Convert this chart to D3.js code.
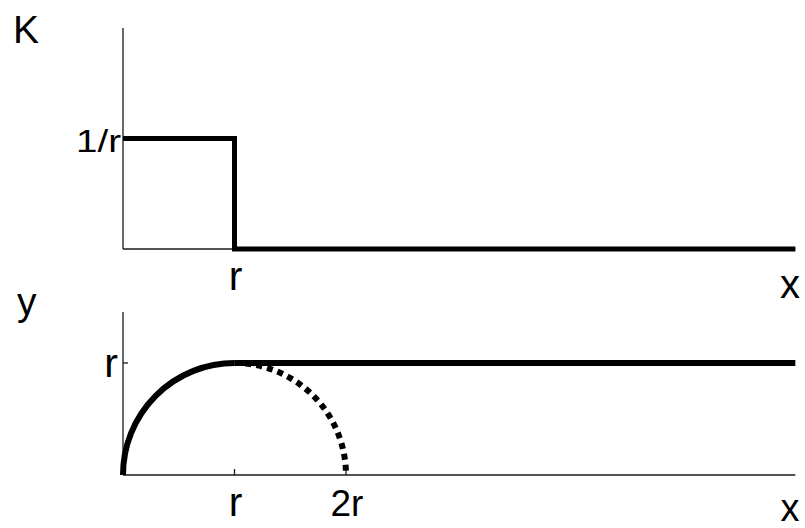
<!DOCTYPE html>
<html>
<head>
<meta charset="utf-8">
<script src="https://cdn.jsdelivr.net/npm/d3@7/dist/d3.min.js"></script>
<style>
html,body{margin:0;padding:0;background:#fff;}
svg{display:block;}
text{font-family:"Liberation Sans",Arial,sans-serif;fill:#000;}
</style>
</head>
<body>
<svg id="chart" width="805" height="528"></svg>
<script>
// ---- data (in units of r) ----
const xMax = 6.03;
const xTickValues = [1, 2];
const xTickLabels = ["r", "2r"];
// top panel: K(x) step function
const kStepX = [0, 1, 1, xMax];
const kStepY = [1, 1, 0, 0];
const kTickValue = 1;
const kTickLabel = "1/r";
// bottom panel: y(x)
const arcCenter = 1;   // circle centred at x = r
const arcRadius = 1;   // radius r
const yFlatX = [1, xMax];
const yFlatY = [1, 1];
const yTickValue = 1;
const yTickLabel = "r";

const svg = d3.select("#chart");

const x = d3.scaleLinear().domain([0, xMax]).range([123, 123 + xMax * 111.5]);
const yTop = d3.scaleLinear().domain([0, 2]).range([249, 28]);
const yBot = d3.scaleLinear().domain([0, 1.455]).range([475, 312]);

function drawAxes(ys, tickXs, tickY) {
  const g = svg.append("g").attr("stroke", "#1a1a1a").attr("stroke-width", 1.3).attr("fill", "none");
  g.append("line").attr("x1", x(0)).attr("x2", x(0)).attr("y1", ys(ys.domain()[1])).attr("y2", ys(0));
  g.append("line").attr("x1", x(0)).attr("x2", x(xMax)).attr("y1", ys(0)).attr("y2", ys(0));
  tickXs.forEach(v => {
    g.append("line").attr("x1", x(v)).attr("x2", x(v)).attr("y1", ys(0)).attr("y2", ys(0) - 6);
  });
  g.append("line").attr("x1", x(0)).attr("x2", x(0) + 5).attr("y1", ys(tickY)).attr("y2", ys(tickY));
}

// ---- top panel ----
drawAxes(yTop, [1], kTickValue);
const kLine = d3.line().x(d => x(d[0])).y(d => yTop(d[1]));
svg.append("path")
  .attr("d", kLine(kStepX.map((v, i) => [v, kStepY[i]])))
  .attr("fill", "none").attr("stroke", "#000").attr("stroke-width", 5)
  .attr("stroke-linejoin", "miter").attr("stroke-linecap", "butt");

svg.append("text").attr("x", 13).attr("y", 43).attr("font-size", 39).text("K");
svg.append("text").attr("x", 121).attr("y", 152).attr("text-anchor", "end")
  .attr("font-size", 31).attr("textLength", 45).attr("lengthAdjust", "spacingAndGlyphs").text(kTickLabel);
svg.append("text").attr("x", x(xTickValues[0]) + 1).attr("y", 290).attr("text-anchor", "middle")
  .attr("font-size", 41).text(xTickLabels[0]);
svg.append("text").attr("x", 790).attr("y", 298).attr("text-anchor", "middle")
  .attr("font-size", 40).text("x");

// ---- bottom panel ----
drawAxes(yBot, xTickValues, yTickValue);
const rx = x(arcCenter + arcRadius) - x(arcCenter);
const ry = yBot(0) - yBot(arcRadius);
const solidArc = d3.path();
solidArc.moveTo(x(arcCenter - arcRadius), yBot(0));
const solidD = solidArc.toString() + ` A${rx},${ry} 0 0 1 ${x(arcCenter)},${yBot(arcRadius)}`;
svg.append("path").attr("d", solidD)
  .attr("fill", "none").attr("stroke", "#000").attr("stroke-width", 6);

const dotD = `M${x(arcCenter)},${yBot(arcRadius)} A${rx},${ry} 0 0 1 ${x(arcCenter + arcRadius)},${yBot(0)}`;
svg.append("path").attr("d", dotD)
  .attr("fill", "none").attr("stroke", "#000").attr("stroke-width", 6)
  .attr("stroke-dasharray", "6,5");

const flatLine = d3.line().x(d => x(d[0])).y(d => yBot(d[1]));
svg.append("path")
  .attr("d", flatLine(yFlatX.map((v, i) => [v, yFlatY[i]])))
  .attr("fill", "none").attr("stroke", "#000").attr("stroke-width", 6);

svg.append("text").attr("x", 17).attr("y", 315).attr("font-size", 39).text("y");
svg.append("text").attr("x", 118).attr("y", 377).attr("text-anchor", "end")
  .attr("font-size", 41).text(yTickLabel);
xTickValues.forEach((v, i) => {
  svg.append("text").attr("x", x(v) + 1).attr("y", 516).attr("text-anchor", "middle")
    .attr("font-size", i === 0 ? 41 : 37).text(xTickLabels[i]);
});
svg.append("text").attr("x", 790).attr("y", 521).attr("text-anchor", "middle")
  .attr("font-size", 38).text("x");
</script>
</body>
</html>
